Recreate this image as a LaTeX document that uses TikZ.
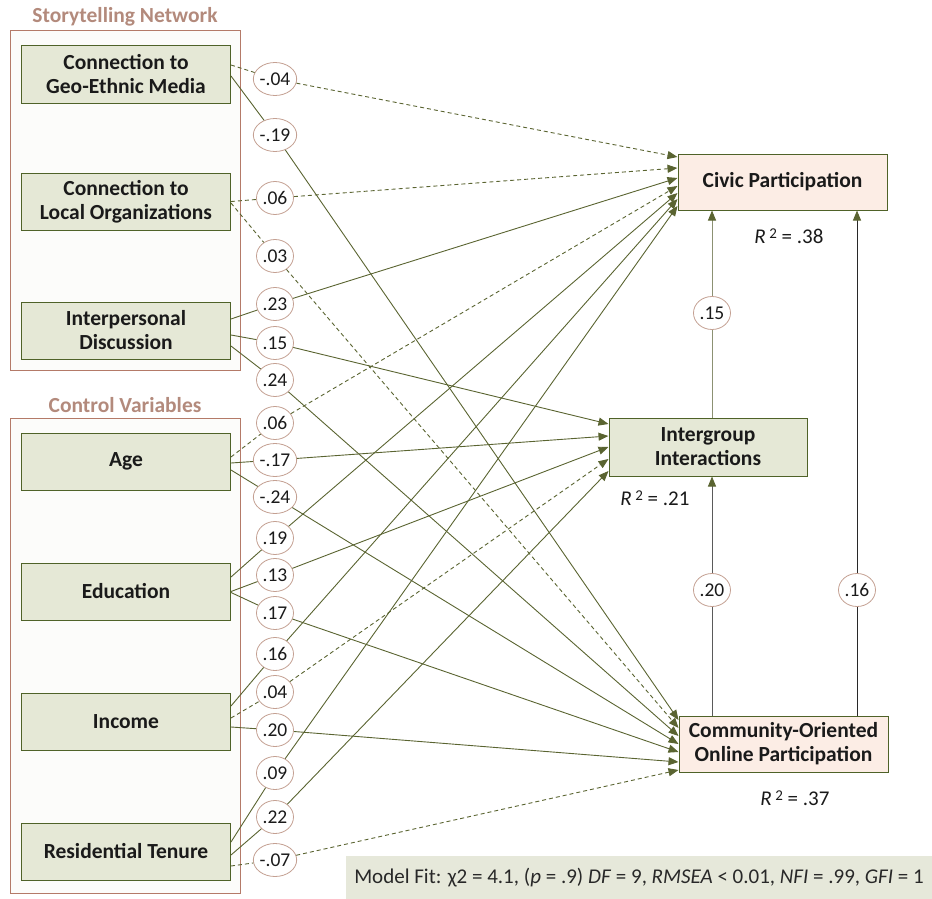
\documentclass[tikz,border=0pt]{standalone}
\usepackage{fontspec}
\setmainfont{Carlito}
\usetikzlibrary{arrows.meta,calc,shapes.geometric}
\definecolor{olv}{HTML}{5A6431}
\definecolor{nodebd}{HTML}{4F6228}
\definecolor{greenfill}{HTML}{E5E8D6}
\definecolor{pinkfill}{HTML}{FCEDE5}
\definecolor{grpbd}{HTML}{B47A68}
\definecolor{grpfill}{HTML}{FCFCFA}
\definecolor{grptxt}{HTML}{B38A7C}
\definecolor{circbd}{HTML}{C4A092}
\definecolor{fitfill}{HTML}{E6E8DA}
\definecolor{txt}{HTML}{1A1A1A}
\begin{document}
\begin{tikzpicture}[x=1pt,y=-1pt,
  var/.style={draw=nodebd,line width=1pt,fill=greenfill,minimum width=209pt,minimum height=57pt,
    align=center,font=\fontsize{21.5}{24}\selectfont\bfseries,inner sep=0pt,text=txt},
  outc/.style={var,fill=pinkfill,minimum height=56pt},
  grp/.style={draw=grpbd,line width=0.9pt,fill=grpfill,minimum width=230pt,inner sep=0pt},
  grptitle/.style={font=\fontsize{21.5}{24}\selectfont\bfseries,text=grptxt},
  coef/.style={ellipse,draw=circbd,line width=0.8pt,fill=white,minimum width=37pt,minimum height=33pt,
    inner sep=0pt,font=\fontsize{19.5}{22}\selectfont,text=txt},
  pth/.style={draw=olv,line width=0.9pt,-{Triangle[length=10pt,width=8pt,color=olv]}},
  ns/.style={pth,dash pattern=on 4pt off 3pt},
  rsq/.style={font=\fontsize{21}{24}\selectfont,text=txt},
]
\useasboundingbox (0,0) rectangle (932,899);

% groups
\node[grp,minimum height=340pt] (sn) at (125,200) {};
\node[grp,minimum height=475pt] (cv) at (125,655.5) {};
\node[grptitle] (snt) at (125,17) {Storytelling Network};
\node[grptitle] (cvt) at (125,405) {Control Variables};

% predictors
\node[var] (geo) at (126,74.5) {Connection to\\Geo-Ethnic Media};
\node[var] (loc) at (126,201.5) {Connection to\\Local Organizations};
\node[var] (ipd) at (126,330.5) {Interpersonal\\Discussion};
\node[var] (age) at (126,461.5) {Age};
\node[var] (edu) at (126,591.5) {Education};
\node[var] (inc) at (126,721.5) {Income};
\node[var] (res) at (126,851.5) {Residential Tenure};

% outcomes
\node[outc] (civ) at (782.5,182) {Civic Participation};
\node[var,minimum width=198pt,minimum height=58pt] (igi) at (708,447) {Intergroup\\Interactions};
\node[outc] (coop) at (783.5,744) {Community-Oriented\\Online Participation};

\node[rsq] (r1) at (789,236) {\textit{R}\,\raisebox{0.55ex}{\fontsize{15}{15}\selectfont 2} = .38};
\node[rsq] (r2) at (655,498) {\textit{R}\,\raisebox{0.55ex}{\fontsize{15}{15}\selectfont 2} = .21};
\node[rsq] (r3) at (795,798) {\textit{R}\,\raisebox{0.55ex}{\fontsize{15}{15}\selectfont 2} = .37};

% coefficient labels
\node[coef] (c01) at (275,79) {-.04};
\node[coef] (c02) at (275,135) {-.19};
\node[coef] (c03) at (275,198) {.06};
\node[coef] (c04) at (275,256) {.03};
\node[coef] (c05) at (275,304) {.23};
\node[coef] (c06) at (275,343) {.15};
\node[coef] (c07) at (275,380) {.24};
\node[coef] (c08) at (275,423) {.06};
\node[coef] (c09) at (275,460) {-.17};
\node[coef] (c10) at (275,497) {-.24};
\node[coef] (c11) at (275,538) {.19};
\node[coef] (c12) at (275,575) {.13};
\node[coef] (c13) at (275,613) {.17};
\node[coef] (c14) at (275,654) {.16};
\node[coef] (c15) at (275,692) {.04};
\node[coef] (c16) at (275,730) {.20};
\node[coef] (c17) at (275,773) {.09};
\node[coef] (c18) at (275,817) {.22};
\node[coef] (c19) at (275,860) {-.07};
\node[coef] (l15) at (712,313) {.15};
\node[coef] (l20) at (712,590) {.20};
\node[coef] (l16) at (857,590) {.16};

% paths to Civic Participation
\draw[ns]  ($(geo.east)+(0,-9.5)$) -- (c01) -- ($(civ.west)+(0,-25)$);
\draw[ns]  (loc.east) -- (c03) -- ($(civ.west)+(0,-14)$);
\draw[pth] ($(ipd.east)+(0,-11.5)$) -- (c05) -- ($(civ.west)+(0,-4)$);
\draw[ns]  ($(age.east)+(0,-4.5)$) -- (c08) -- ($(civ.west)+(0,4)$);
\draw[pth] ($(edu.east)+(0,-14.5)$) -- (c11) -- ($(civ.west)+(0,11)$);
\draw[pth] ($(inc.east)+(0,-15.5)$) -- (c14) -- ($(civ.west)+(0,17)$);
\draw[pth] ($(res.east)+(0,-9.5)$) -- (c17) -- ($(civ.west)+(0,24)$);

% paths to Intergroup Interactions
\draw[pth] ($(ipd.east)+(0,4.5)$) -- (c06) -- ($(igi.west)+(0,-23)$);
\draw[pth] ($(age.east)+(0,1.5)$) -- (c09) -- ($(igi.west)+(0,-11)$);
\draw[pth] (edu.east) -- (c12) -- (igi.west);
\draw[ns]  ($(inc.east)+(0,-3.5)$) -- (c15) -- ($(igi.west)+(0,12)$);
\draw[pth] ($(res.east)+(0,3.5)$) -- (c18) -- ($(igi.west)+(0,24)$);

% paths to Community-Oriented Online Participation
\draw[pth] ($(geo.east)+(0,1.5)$) -- (c02) -- ($(coop.west)+(0,-24)$);
\draw[ns]  ($(loc.east)+(0,1.5)$) -- (c04) -- ($(coop.west)+(0,-16)$);
\draw[pth] ($(ipd.east)+(0,15.5)$) -- (c07) -- ($(coop.west)+(0,-8)$);
\draw[pth] ($(age.east)+(0,8.5)$) -- (c10) -- (coop.west);
\draw[pth] ($(edu.east)+(0,1)$) -- (c13) -- ($(coop.west)+(0,8)$);
\draw[pth] ($(inc.east)+(0,5.5)$) -- (c16) -- ($(coop.west)+(0,18)$);
\draw[ns]  ($(res.east)+(0,14.5)$) -- (c19) -- ($(coop.west)+(0,26)$);

% vertical paths
\draw[pth,draw={rgb,255:red,140;green,145;blue,115}] (igi.north -| l15) -- (l15) -- (civ.south -| l15);
\draw[pth,draw={rgb,255:red,90;green,90;blue,90}] (coop.north -| l20) -- (l20) -- (igi.south -| l20);
\draw[pth,draw={rgb,255:red,40;green,40;blue,40}] (coop.north -| l16) -- (l16) -- (civ.south -| l16);

% model fit
\node[fill=fitfill,minimum width=586pt,minimum height=43pt,inner sep=0pt,
  font=\fontsize{21}{24}\selectfont,text={rgb,255:red,40;green,40;blue,40}] (fit) at (639,877.5)
  {Model Fit: χ2 = 4.1, (\textit{p} = .9) \textit{DF} = 9, \textit{RMSEA} < 0.01, \textit{NFI} = .99, \textit{GFI} = 1};
\end{tikzpicture}
\end{document}
